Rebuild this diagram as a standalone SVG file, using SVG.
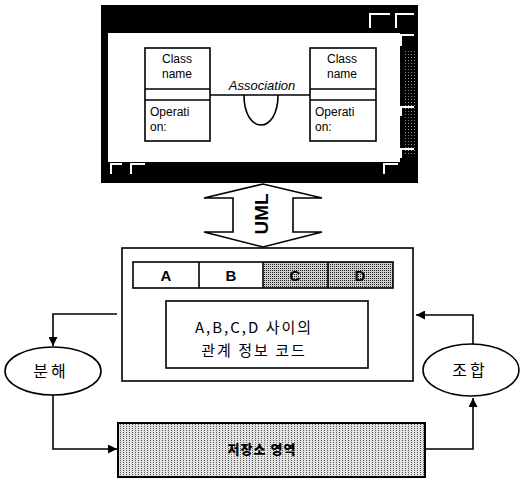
<svg xmlns="http://www.w3.org/2000/svg" width="520" height="478" viewBox="0 0 520 478">
<defs>
<style>
.ln{fill:none;stroke:#000;stroke-width:1.6}
.box{fill:#fff;stroke:#000;stroke-width:1.6}
.t{font-family:"Liberation Sans",Arial,sans-serif;fill:#000}
.k{font-family:"Noto Sans CJK KR","Liberation Sans",sans-serif;fill:#000}
.wl{fill:none;stroke:#fff;stroke-width:2}
.cls{font-size:12px}
</style>
<pattern id="dk" width="2" height="2" patternUnits="userSpaceOnUse">
<rect width="2" height="2" fill="#cfcfcf"/><rect width="1" height="1" fill="#222"/>
</pattern>
<pattern id="lt" width="3" height="2" patternUnits="userSpaceOnUse">
<rect width="3" height="2" fill="#e2e2e2"/><rect width="1" height="1" fill="#555"/>
</pattern>
<pattern id="wd" width="3" height="3" patternUnits="userSpaceOnUse">
<rect width="3" height="3" fill="#000"/><rect width="1" height="1" fill="#888"/>
</pattern>
<marker id="ah" viewBox="0 0 10 10" refX="10" refY="5" markerWidth="9" markerHeight="9" markerUnits="userSpaceOnUse" orient="auto">
<path d="M0,0 L10,5 L0,10 Z" fill="#000"/>
</marker>
</defs>

<g id="window">
<rect x="101" y="5" width="317" height="178" fill="#000"/>
<rect x="403" y="50" width="12" height="105" fill="url(#wd)"/>
<rect x="108" y="33" width="292" height="129" fill="#fff"/>
<path class="wl" d="M370,28 V14 H390 M396,28 V14 H414 M401,46 V35 H414 M401,116 V107 H414 M401,158 V149 H414 M111,174 V164 H122 M131,174 V164 H145 M384,174 V164 H398"/>
</g>

<g id="class-left">
<rect class="box" x="145" y="48" width="65" height="93" stroke-width="1.2"/>
<path class="ln" d="M145,89 H210 M145,100 H210" stroke-width="1.2"/>
<text class="t cls" x="177" y="63" text-anchor="middle">Class</text>
<text class="t cls" x="177" y="78" text-anchor="middle">name</text>
<text class="t cls" x="150" y="116">Operati</text>
<text class="t cls" x="150" y="131">on:</text>
</g>

<g id="class-right">
<rect class="box" x="310" y="48" width="66" height="93" stroke-width="1.2"/>
<path class="ln" d="M310,89 H376 M310,100 H376" stroke-width="1.2"/>
<text class="t cls" x="342" y="63" text-anchor="middle">Class</text>
<text class="t cls" x="342" y="78" text-anchor="middle">name</text>
<text class="t cls" x="315" y="116">Operati</text>
<text class="t cls" x="315" y="131">on:</text>
</g>

<g id="association">
<path class="ln" d="M210,95 H310" stroke-width="1.2"/>
<path class="ln" d="M244,95 C244,135 278,135 278,95" stroke-width="2"/>
<text class="t" x="262" y="90" font-size="13" font-style="italic" text-anchor="middle">Association</text>
</g>

<g id="uml-arrow">
<polygon class="box" points="263,184 204,198 233,198 233,232 204,232 263,247 322,232 293,232 293,198 322,198"/>
<text class="t" transform="translate(268,214) rotate(-90)" font-size="19" font-weight="bold" text-anchor="middle">UML</text>
</g>

<g id="code-block">
<rect class="box" x="122" y="248" width="291" height="133"/>
<rect x="263" y="262" width="130" height="26" fill="url(#dk)"/>
<rect class="ln" x="133" y="262" width="260" height="26"/>
<path class="ln" d="M199,262 V288 M263,262 V288 M328,262 V288"/>
<text class="t" x="166" y="281" font-size="15" font-weight="bold" text-anchor="middle">A</text>
<text class="t" x="231" y="281" font-size="15" font-weight="bold" text-anchor="middle">B</text>
<text class="t" x="295" y="281" font-size="15" font-weight="bold" text-anchor="middle" fill="#222">C</text>
<text class="t" x="360" y="281" font-size="15" font-weight="bold" text-anchor="middle" fill="#222">D</text>
<rect class="box" x="166" y="301" width="202" height="67"/>
<text class="k" x="254" y="333" font-size="15" text-anchor="middle" letter-spacing="2">A,B,C,D 사이의</text>
<text class="k" x="254" y="356" font-size="15" text-anchor="middle" letter-spacing="2">관계 정보 코드</text>
</g>

<g id="decompose">
<ellipse class="box" cx="53" cy="371" rx="48" ry="24"/>
<text class="k" x="51" y="377" font-size="16" text-anchor="middle" letter-spacing="3">분해</text>
</g>

<g id="combine">
<ellipse class="box" cx="471" cy="370" rx="48" ry="26"/>
<text class="k" x="470" y="376" font-size="16" text-anchor="middle" letter-spacing="3">조합</text>
</g>

<g id="storage">
<rect x="118" y="423" width="307" height="54" fill="url(#lt)" stroke="#000" stroke-width="2"/>
<text class="k" x="262" y="454" font-size="13" font-weight="900" text-anchor="middle" letter-spacing="1">저장소 영역</text>
</g>

<g id="connectors">
<path class="ln" d="M117,314 H53 V346" marker-end="url(#ah)"/>
<path class="ln" d="M53,395 V449 H117" marker-end="url(#ah)"/>
<path class="ln" d="M425,449 H473 V398" marker-end="url(#ah)"/>
<path class="ln" d="M473,344 V315 H416" marker-end="url(#ah)"/>
</g>
</svg>
